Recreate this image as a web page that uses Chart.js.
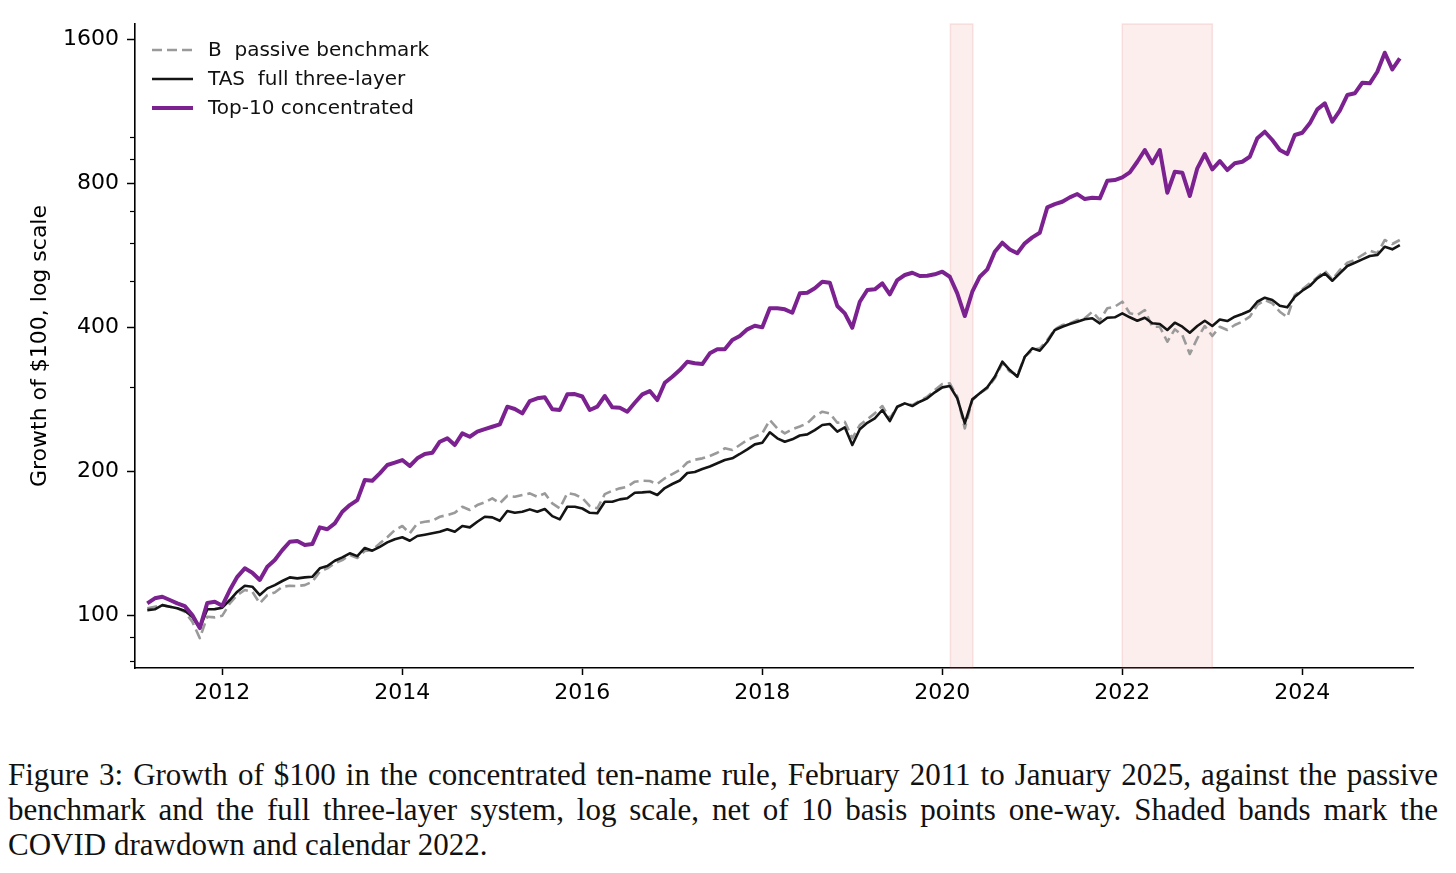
<!DOCTYPE html>
<html lang="en">
<head>
    <meta charset="UTF-8">
    <title>Figure 3</title>
    <script src="https://cdn.jsdelivr.net/npm/chart.js@4.4.1/dist/chart.umd.min.js"></script>
    <style>
        body { margin: 0; background: #fff; }
        #recuadro { display: block; }
        .caption { position: absolute; left: 8px; width: 1430px; top: 757px;
                   font-family: "Liberation Serif", serif; font-size: 31px; line-height: 35px; color: #111; }
        .caption div { white-space: nowrap; text-align: justify; text-align-last: justify; }
        .caption div.last { text-align-last: left; }
    </style>
</head>
<body>

    <canvas id="recuadro" width="1456" height="720" style="width:1456px;height:720px"></canvas>
    <div class="caption">
        <div>Figure 3: Growth of $100 in the concentrated ten-name rule, February 2011 to January 2025, against the passive</div>
        <div>benchmark and the full three-layer system, log scale, net of 10 basis points one-way. Shaded bands mark the</div>
        <div class="last">COVID drawdown and calendar 2022.</div>
    </div>

    <script>
        // monthly, Feb 2011 .. Jan 2025 (168 months)
        const startYear = 2011, startMonth = 2, nMonths = 168;

        const benchmark = [
            103.3,104.1,104.9,104.1,103.3,101.6,96.8,89.5,99.2,98.9,99.7,105.8,
            110.1,112.8,111.9,105.8,110.1,111.5,114.6,115.1,115.0,115.5,117.4,123.2,
            125.2,128.3,130.3,133.5,131.6,136.1,136.7,141.2,145.4,150.5,153.5,148.2,
            155.5,156.7,157.4,160.5,161.8,163.6,168.4,165.8,169.8,172.0,175.4,171.2,
            177.6,176.7,178.2,179.6,176.7,179.6,171.2,167.1,179.9,178.6,175.6,169.0,
            167.1,179.0,181.9,184.0,185.5,190.0,190.9,190.6,187.9,193.1,197.1,201.0,
            208.4,211.2,212.6,215.0,218.4,223.1,221.3,226.7,232.2,235.9,239.8,255.6,
            245.6,239.8,244.5,247.8,251.6,260.6,266.1,264.0,252.3,253.6,234.1,249.6,
            256.5,264.0,273.5,257.7,272.6,277.0,274.8,280.5,286.0,295.4,304.0,305.1,
            286.0,245.6,281.5,290.7,297.8,312.5,335.9,322.9,317.5,346.7,358.1,361.0,
            375.7,395.6,403.9,407.2,413.7,417.2,430.6,413.7,437.7,441.1,451.8,427.3,
            423.8,434.1,400.6,400.6,372.7,395.6,384.9,351.3,378.8,402.0,383.1,400.6,
            394.3,403.9,410.4,420.4,444.7,455.6,448.4,430.6,419.2,466.6,479.6,493.6,
            508.1,524.5,503.3,526.3,545.1,552.2,565.7,577.5,570.4,608.1,596.5,608.1
        ];
        const threeLayer = [
            102.4,102.8,104.9,104.1,103.3,102.1,99.2,93.9,102.8,102.9,103.6,107.5,
            111.9,115.1,114.6,110.1,113.7,115.5,117.8,119.9,119.3,119.9,120.2,125.2,
            126.6,129.9,132.0,134.6,132.8,138.1,136.3,138.9,141.9,144.0,145.4,143.0,
            146.3,147.2,148.2,149.3,151.1,149.3,153.5,152.5,156.7,160.5,160.0,157.4,
            165.0,163.6,164.4,166.3,164.4,166.6,161.0,158.5,168.4,168.4,167.0,163.6,
            163.2,172.5,172.5,174.5,175.4,180.2,180.5,181.0,178.2,184.3,187.9,191.1,
            198.1,199.0,201.9,204.4,207.6,210.9,212.6,217.1,222.0,227.4,229.2,241.0,
            234.1,230.3,233.0,237.3,238.6,243.6,249.6,250.8,241.7,246.8,226.7,244.5,
            252.3,257.7,268.3,254.4,272.6,277.0,273.5,279.2,283.8,292.1,299.2,301.1,
            283.8,251.6,282.4,290.7,299.2,314.9,338.5,325.2,314.9,346.7,361.0,356.9,
            372.7,394.3,400.6,405.8,410.4,415.1,417.2,407.2,418.4,419.2,427.3,419.2,
            412.3,418.4,407.2,405.8,394.3,408.4,400.6,389.1,402.0,412.3,402.0,414.7,
            411.7,420.4,425.9,432.7,451.8,460.6,455.6,443.2,439.8,462.8,476.4,487.3,
            505.7,518.0,499.9,518.0,536.5,545.1,554.1,563.0,565.7,588.7,581.4,593.6
        ];
        const top10 = [
            105.8,108.4,109.2,107.5,105.8,104.4,100.0,93.9,106.0,106.6,104.6,112.8,
            120.2,125.2,122.6,118.4,126.2,130.3,136.7,142.3,142.8,140.1,140.7,152.5,
            151.1,155.5,164.4,169.8,173.9,191.5,190.9,197.8,205.9,208.2,210.9,204.9,
            212.6,217.1,218.4,230.3,234.1,226.7,239.8,235.9,241.7,244.8,247.5,250.4,
            272.6,269.6,264.0,280.1,283.8,285.2,269.2,268.3,289.3,289.7,286.3,268.3,
            272.6,287.0,271.8,271.2,266.1,277.8,289.3,293.9,281.5,305.9,314.9,325.2,
            338.5,335.9,334.7,352.4,359.3,359.3,375.7,383.1,395.6,402.5,399.4,437.7,
            437.7,435.6,428.5,470.4,471.8,481.9,497.4,495.1,442.6,427.3,398.7,451.8,
            478.0,479.6,493.6,468.2,501.5,513.8,519.5,511.3,512.0,515.5,522.0,509.6,
            470.4,421.7,474.1,509.6,528.0,574.7,600.2,580.8,570.4,598.5,616.0,629.8,
            711.6,723.0,731.1,746.7,758.7,740.6,745.3,743.1,808.9,811.7,822.3,842.3,
            886.4,937.8,879.6,937.8,763.5,844.7,840.7,751.4,858.7,919.8,854.6,889.3,
            851.7,879.6,886.4,908.0,992.1,1024.1,984.0,937.8,919.8,1007.9,1019.1,1066.3,
            1140.7,1174.1,1074.6,1133.0,1221.9,1232.0,1296.4,1292.7,1367.0,1497.9,1382.8,1458.1
        ];

        const yearTicks = [2012, 2014, 2016, 2018, 2020, 2022, 2024];
        const yMajor = [100, 200, 400, 800, 1600];
        const yMinor = [80, 90, 300, 500, 600, 700, 900, 1000];
        // shaded periods, decimal years: COVID drawdown, calendar 2022
        const bands = [[2020.09, 2020.34], [2022.0, 2023.0]];

        // month-end positions as decimal years
        const xs = [];
        for (let i = 0; i < nMonths; i++) {
            xs.push(startYear + (startMonth + i) / 12);
        }
        const pts = arr => arr.map((v, i) => ({ x: xs[i], y: v }));

        const tickFont = { family: 'DejaVu Sans', size: 22 };

        const bandPlugin = {
            id: 'bands',
            beforeDatasetsDraw(chart) {
                const { ctx, chartArea, scales } = chart;
                ctx.save();
                bands.forEach(b => {
                    const x0 = scales.x.getPixelForValue(b[0]);
                    const x1 = scales.x.getPixelForValue(b[1]);
                    ctx.fillStyle = 'rgba(235, 70, 70, 0.09)';
                    ctx.fillRect(x0, chartArea.top, x1 - x0, chartArea.bottom - chartArea.top);
                    ctx.strokeStyle = 'rgba(210, 80, 80, 0.14)';
                    ctx.lineWidth = 1.5;
                    ctx.strokeRect(x0, chartArea.top, x1 - x0, chartArea.bottom - chartArea.top);
                });
                ctx.restore();
            }
        };

        const minorTicks = {
            id: 'minorTicks',
            afterDraw(chart) {
                const { ctx, chartArea, scales } = chart;
                ctx.save();
                ctx.strokeStyle = '#000';
                ctx.lineWidth = 1.2;
                yMinor.forEach(v => {
                    const y = Math.round(scales.y.getPixelForValue(v)) + 0.5;
                    ctx.beginPath();
                    ctx.moveTo(chartArea.left - 5, y);
                    ctx.lineTo(chartArea.left, y);
                    ctx.stroke();
                });
                ctx.restore();
            }
        };

        const innerLegend = {
            id: 'innerLegend',
            afterDraw(chart) {
                const { ctx, chartArea } = chart;
                ctx.save();
                ctx.font = '20px "DejaVu Sans"';
                ctx.textBaseline = 'middle';
                chart.data.datasets.forEach((ds, k) => {
                    const y = chartArea.top + 26 + k * 29;
                    ctx.strokeStyle = ds.borderColor;
                    ctx.lineWidth = ds.borderWidth;
                    ctx.setLineDash(ds.borderDash || []);
                    ctx.beginPath();
                    ctx.moveTo(chartArea.left + 17, y);
                    ctx.lineTo(chartArea.left + 58, y);
                    ctx.stroke();
                    ctx.setLineDash([]);
                    ctx.fillStyle = '#111';
                    ctx.fillText(ds.label, chartArea.left + 73, y + 1);
                });
                ctx.restore();
            }
        };

        const ctx = document.getElementById('recuadro').getContext('2d');
        new Chart(ctx, {
            type: 'line',
            data: {
                datasets: [{
                    label: 'B  passive benchmark',
                    data: pts(benchmark),
                    borderColor: '#9a9a9a',
                    borderWidth: 2.6,
                    borderDash: [10, 5],
                    order: 3
                }, {
                    label: 'TAS  full three-layer',
                    data: pts(threeLayer),
                    borderColor: '#141414',
                    borderWidth: 2.6,
                    order: 2
                }, {
                    label: 'Top-10 concentrated',
                    data: pts(top10),
                    borderColor: '#7b2290',
                    borderWidth: 4,
                    order: 1
                }]
            },
            options: {
                responsive: false,
                animation: false,
                events: [],
                elements: { point: { radius: 0 }, line: { tension: 0, fill: false, borderJoinStyle: 'round' } },
                layout: { padding: { left: 0, top: 24, right: 43, bottom: 0 } },
                plugins: { legend: { display: false }, tooltip: { enabled: false } },
                scales: {
                    x: {
                        type: 'linear',
                        min: 2011.03,
                        max: 2025.23,
                        afterBuildTicks: s => { s.ticks = yearTicks.map(v => ({ value: v })); },
                        afterFit: s => { s.height = 52; },
                        grid: { drawOnChartArea: false, tickLength: 7, tickWidth: 1.5, tickColor: '#000' },
                        border: { color: '#000', width: 1.6 },
                        ticks: { color: '#000', font: tickFont, padding: 5, maxRotation: 0, callback: v => String(v) }
                    },
                    y: {
                        type: 'logarithmic',
                        min: 77.5,
                        max: 1720,
                        afterBuildTicks: s => { s.ticks = yMajor.map(v => ({ value: v })); },
                        afterFit: s => { s.width = 135; },
                        grid: { drawOnChartArea: false, tickLength: 8, tickWidth: 1.5, tickColor: '#000' },
                        border: { color: '#000', width: 1.6 },
                        ticks: { color: '#000', font: tickFont, padding: 8, callback: v => String(v) },
                        title: {
                            display: true,
                            text: 'Growth of $100, log scale',
                            color: '#000',
                            font: tickFont,
                            padding: { top: 27, bottom: 0 }
                        }
                    }
                }
            },
            plugins: [bandPlugin, minorTicks, innerLegend]
        });
    </script>

</body>
</html>
